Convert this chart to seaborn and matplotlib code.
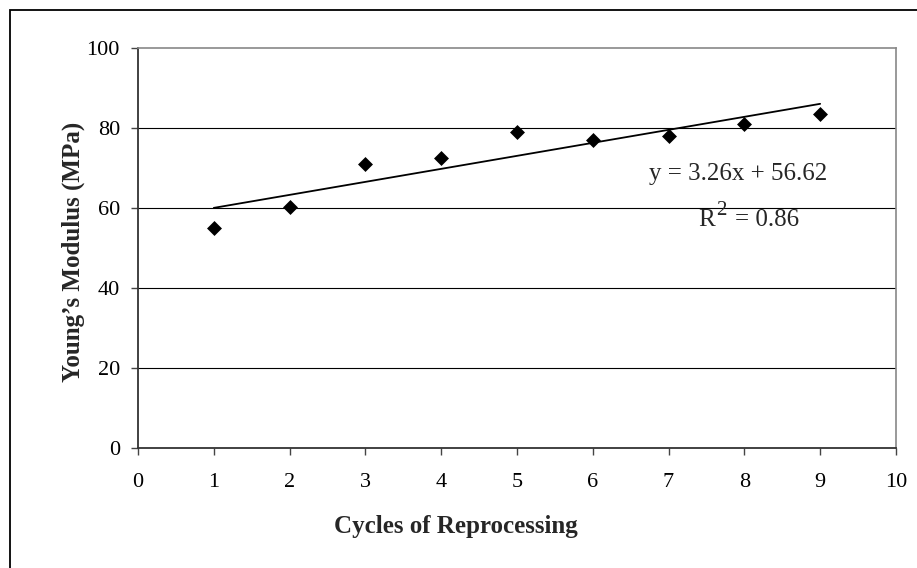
import numpy as np
import pandas as pd
import seaborn as sns
import matplotlib.pyplot as plt
from matplotlib.patches import Rectangle

# values
cycles = [1, 2, 3, 4, 5, 6, 7, 8, 9]
modulus = [55.0, 60.2, 71.0, 72.5, 79.0, 77.1, 78.0, 80.9, 83.6]
eq_text = "y = 3.26x + 56.62"
r2_value = "= 0.86"

df = pd.DataFrame({"cycles": cycles, "modulus": modulus})

sns.set_style("ticks")
plt.rcParams["font.family"] = ["Liberation Serif", "DejaVu Serif"]

fig = plt.figure(figsize=(9.17, 5.68), dpi=100)
ax = fig.add_axes([0.1505, 0.2113, 0.8265, 0.7042])

# grid lines first so marks sit on top
for g in [20, 40, 60, 80]:
    ax.axhline(g, color="black", lw=0.8, zorder=0)

sns.regplot(data=df, x="cycles", y="modulus", ax=ax, ci=None, truncate=True,
            marker="D", color="black",
            scatter_kws={"s": 58, "zorder": 3, "linewidths": 0, "alpha": 1},
            line_kws={"color": "black", "lw": 1.3, "zorder": 2})

ax.set_xlim(0, 10)
ax.set_ylim(0, 100)
ax.set_xticks(range(0, 11))
ax.set_yticks(range(0, 101, 20))
ax.tick_params(axis="both", labelsize=16, length=5, width=1, color="#444444",
               direction="out", labelcolor="black")
ax.tick_params(axis="x", pad=13)
ax.tick_params(axis="y", pad=8)

for side in ["left", "bottom"]:
    ax.spines[side].set_color("#333333")
    ax.spines[side].set_linewidth(1.3)
for side in ["top", "right"]:
    ax.spines[side].set_visible(True)
    ax.spines[side].set_color("#888888")
    ax.spines[side].set_linewidth(1.2)

ax.set_xlabel("Cycles of Reprocessing", fontsize=18, fontweight="bold")
ax.set_ylabel("Young\u2019s Modulus (MPa)", fontsize=18, fontweight="bold")
ax.xaxis.set_label_coords(0.42, -0.168)
ax.yaxis.set_label_coords(-0.070, 0.49)

ax.text(7.92, 68.6, eq_text, fontsize=18, ha="center", va="center")
# R^2 with a large raised "2", as in the spreadsheet label
ax.text(7.39, 55.5, "R", fontsize=18, ha="left", va="baseline")
ax.text(7.63, 58.3, "2", fontsize=15, ha="left", va="baseline")
ax.text(7.88, 55.5, r2_value, fontsize=18, ha="left", va="baseline")

# outer chart border (only left and top edges fall inside the image)
fig.patches.append(Rectangle((10 / 917, -0.2), 2, 1 - 10 / 568 + 0.2,
                             transform=fig.transFigure, fill=False,
                             edgecolor="black", lw=1.3))

fig.savefig("out.png", dpi=100)
